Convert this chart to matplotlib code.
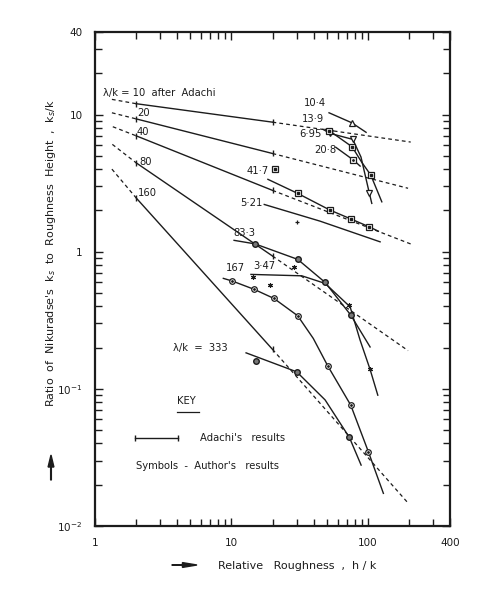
import numpy as np
import matplotlib
matplotlib.use("Agg")
import matplotlib.pyplot as plt
from matplotlib.ticker import FixedLocator, NullFormatter

# Adachi's lines (lambda/k), solid between h/k = 2 and 20
adachi_lam = [10, 20, 40, 80, 160]
adachi_x = [2, 20]
adachi_y = [[12.0, 8.8], [9.3, 5.2], [7.0, 2.8], [4.45, 0.93], [2.47, 0.194]]
# dashed extrapolations on both sides
ext_left_x = [1.33, 1.33, 1.35, 1.34, 1.33]
ext_left_y = [12.9, 10.3, 8.15, 6.06, 4.0]
ext_right_x = [206, 197, 210, 197, 197]
ext_right_y = [6.3, 2.9, 1.13, 0.19, 0.0147]

# Author's results : curves and symbols
c104_x = [51.9, 76.2, 97.0]
c104_y = [10.3, 8.71, 7.42]
c104_px = [76.2]
c104_py = [8.71]

c695_x = [46.9, 52.8, 77.5, 89.0, 102.6, 106.8]
c695_y = [7.8, 7.29, 6.59, 4.9, 2.66, 2.25]
c695_px = [52.8, 77.5, 102.6]
c695_py = [7.29, 6.59, 2.66]

c139_x = [48.6, 52.2, 76.6, 90.0, 105.0, 126.5]
c139_y = [7.8, 7.62, 5.82, 4.5, 3.62, 2.31]
c139_px = [52.2, 76.6, 105.0]
c139_py = [7.62, 5.82, 3.62]

c208_x = [58.2, 78.3, 87.7]
c208_y = [5.77, 4.66, 4.21]
c208_px = [78.3]
c208_py = [4.66]

c417_x = [18.5, 30.6, 52.8, 75.3, 102.0, 119.4]
c417_y = [3.37, 2.66, 2.01, 1.73, 1.52, 1.41]
c417_px = [20.9, 30.6, 52.8, 75.3, 102.0]
c417_py = [4.0, 2.66, 2.01, 1.73, 1.52]

c521_x = [17.4, 44.6, 122.9]
c521_y = [2.21, 1.67, 1.18]
c521_px = [30.1]
c521_py = [1.64]

c833_x = [10.45, 14.9, 30.6, 48.6, 74.9, 103.8]
c833_y = [1.21, 1.14, 0.879, 0.597, 0.345, 0.202]
c833_px = [14.9, 30.6, 48.6, 74.9]
c833_py = [1.14, 0.879, 0.597, 0.345]

c347_x = [13.9, 32.8, 48.6, 74.1, 87.6, 103.8, 118.2]
c347_y = [0.683, 0.667, 0.587, 0.396, 0.227, 0.1385, 0.0899]
c347_px = [14.3, 19.2, 28.9, 73.2, 103.8]
c347_py = [0.656, 0.571, 0.768, 0.408, 0.1385]

c167_x = [8.72, 10.15, 14.7, 20.5, 30.6, 39.8, 50.8, 74.9, 100.9, 129.9]
c167_y = [0.639, 0.611, 0.531, 0.456, 0.341, 0.233, 0.147, 0.076, 0.0347, 0.0173]
c167_px = [10.15, 14.7, 20.5, 30.6, 50.8, 74.9, 100.9]
c167_py = [0.611, 0.531, 0.456, 0.341, 0.147, 0.076, 0.0347]

c333_x = [12.8, 30.1, 48.6, 73.2, 89.2]
c333_y = [0.183, 0.133, 0.083, 0.0442, 0.0278]
c333_px = [15.2, 30.1, 73.2]
c333_py = [0.160, 0.133, 0.0442]

# tick labels
xticks = [1, 10, 100, 400]
xtick_labels = ["1", "10", "100", "400"]
yticks = [0.01, 0.1, 1, 10, 40]
ytick_labels = ["$10^{-2}$", "$10^{-1}$", "1", "10", "40"]

ink = "#1c1c1c"
plt.rcParams["font.family"] = ["DejaVu Sans"]
plt.rcParams["mathtext.fontset"] = "dejavusans"

fig = plt.figure(figsize=(4.85, 6.01), dpi=100)
ax = fig.add_axes([0.1959, 0.1248, 0.7320, 0.8220])
ax.set_xscale("log")
ax.set_yscale("log")
ax.set_xlim(1, 400)
ax.set_ylim(0.01, 40)

# Adachi
for i in range(len(adachi_lam)):
    ax.plot(adachi_x, adachi_y[i], color=ink, lw=1.0, marker="|", ms=5, mew=1.0)
    ax.plot([ext_left_x[i], adachi_x[0]], [ext_left_y[i], adachi_y[i][0]],
            color=ink, lw=0.9, ls=(0, (3, 2.5)))
    ax.plot([adachi_x[1], ext_right_x[i]], [adachi_y[i][1], ext_right_y[i]],
            color=ink, lw=0.9, ls=(0, (3, 2.5)))

# author's curves
curves = [(c104_x, c104_y), (c695_x, c695_y), (c139_x, c139_y), (c208_x, c208_y),
          (c417_x, c417_y), (c521_x, c521_y), (c833_x, c833_y), (c347_x, c347_y),
          (c167_x, c167_y), (c333_x, c333_y)]
for cx, cy in curves:
    ax.plot(cx, cy, color=ink, lw=1.0)

ms = 4
ax.plot(c104_px, c104_py, ls="none", marker="^", ms=ms, mfc="white", mec=ink, mew=0.9)
ax.plot(c695_px, c695_py, ls="none", marker="v", ms=ms, mfc="white", mec=ink, mew=0.9)
ax.plot(c139_px, c139_py, ls="none", marker="s", ms=ms, mfc="white", mec=ink, mew=0.9)
ax.plot(c139_px, c139_py, ls="none", marker="s", ms=1.6, mfc=ink, mec=ink)
ax.plot(c208_px, c208_py, ls="none", marker="s", ms=ms, mfc="white", mec=ink, mew=0.9)
ax.plot(c208_px, c208_py, ls="none", marker=".", ms=2, color=ink)
ax.plot(c417_px, c417_py, ls="none", marker="s", ms=ms, mfc="white", mec=ink, mew=0.9)
ax.plot(c417_px, c417_py, ls="none", marker="s", ms=1.8, mfc=ink, mec=ink)
ax.plot(c521_px, c521_py, ls="none", marker="+", ms=3.5, color=ink, mew=0.9)
ax.plot(c347_px, c347_py, ls="none", marker=(6, 2, 0), ms=3.5, color=ink, mew=0.8)
ax.plot(c833_px, c833_py, ls="none", marker="o", ms=ms, mfc="#777777", mec=ink, mew=1.0)
ax.plot(c167_px, c167_py, ls="none", marker="o", ms=ms, mfc="white", mec=ink, mew=0.9)
ax.plot(c167_px, c167_py, ls="none", marker=".", ms=2, color=ink)
ax.plot(c333_px, c333_py, ls="none", marker="o", ms=ms, mfc="#777777", mec=ink, mew=1.0)

# labels on the curves
fs = 7.2
ax.text(1.145, 14.3, "λ/k = 10  after  Adachi", fontsize=fs, color=ink, va="center")
ax.text(2.03, 10.2, "20", fontsize=fs, color=ink, va="center")
ax.text(2.03, 7.46, "40", fontsize=fs, color=ink, va="center")
ax.text(2.1, 4.5, "80", fontsize=fs, color=ink, va="center")
ax.text(2.07, 2.68, "160", fontsize=fs, color=ink, va="center")
ax.text(34.1, 12.2, "10·4", fontsize=fs, color=ink, va="center")
ax.text(32.8, 9.22, "13·9", fontsize=fs, color=ink, va="center")
ax.text(31.3, 7.17, "6·95", fontsize=fs, color=ink, va="center")
ax.text(40.3, 5.51, "20·8", fontsize=fs, color=ink, va="center")
ax.text(12.8, 3.87, "41·7", fontsize=fs, color=ink, va="center")
ax.text(11.56, 2.25, "5·21", fontsize=fs, color=ink, va="center")
ax.text(10.27, 1.36, "83·3", fontsize=fs, color=ink, va="center")
ax.text(14.4, 0.789, "3·47", fontsize=fs, color=ink, va="center")
ax.text(9.13, 0.756, "167", fontsize=fs, color=ink, va="center")
ax.text(3.73, 0.197, "λ/k  =  333", fontsize=fs, color=ink, va="center")

# key
ax.text(3.99, 0.0813, "KEY", fontsize=fs, color=ink, va="center")
ax.plot([3.99, 5.75], [0.068, 0.068], color=ink, lw=0.9)
ax.plot([1.966, 4.08], [0.0435, 0.0435], color=ink, lw=1.0, marker="|", ms=5, mew=1.0)
ax.text(5.89, 0.0435, "Adachi's   results", fontsize=fs, color=ink, va="center")
ax.text(2.0, 0.0273, "Symbols  -  Author's   results", fontsize=fs, color=ink, va="center")

# axes, ticks
ax.xaxis.set_major_locator(FixedLocator(xticks))
ax.set_xticklabels(xtick_labels)
ax.xaxis.set_minor_locator(FixedLocator([2, 3, 4, 5, 6, 7, 8, 9, 20, 30, 40, 50, 60, 70, 80, 90, 200, 300]))
ax.xaxis.set_minor_formatter(NullFormatter())
ax.yaxis.set_major_locator(FixedLocator(yticks))
ax.set_yticklabels(ytick_labels)
ymin = [m * d for d in [0.01, 0.1, 1] for m in range(2, 10)] + [20, 30]
ax.yaxis.set_minor_locator(FixedLocator(ymin))
ax.yaxis.set_minor_formatter(NullFormatter())
ax.tick_params(which="both", direction="in", top=True, right=True, color=ink,
               labelsize=7.5, labelcolor=ink)
ax.tick_params(which="major", length=6, width=1.0)
ax.tick_params(which="minor", length=5, width=1.0)
ax.tick_params(axis="x", which="major", pad=9)
ax.tick_params(axis="y", which="major", pad=9)
for sp in ax.spines.values():
    sp.set_linewidth(1.6)
    sp.set_color(ink)

# axis titles with arrows
fig.text(0.4495, 0.0582, "Relative   Roughness  ,  h / k", fontsize=8, color=ink,
         ha="left", va="center")
fig.text(0.105, 0.579, "Ratio  of  Nikuradse's  k$_s$  to  Roughness  Height  ,  k$_s$/k",
         fontsize=8, color=ink, rotation=90, ha="center", va="center")
fig.patches.append(matplotlib.patches.FancyArrow(
    172 / 485, 1 - 565 / 601, 25 / 485, 0, width=0.001, head_width=0.008,
    head_length=0.03, length_includes_head=True, color=ink, transform=fig.transFigure))
fig.patches.append(matplotlib.patches.FancyArrow(
    51 / 485, 1 - 480 / 601, 0, 25 / 601, width=0.0015, head_width=0.012,
    head_length=0.02, length_includes_head=True, color=ink, transform=fig.transFigure))

fig.savefig("out.png", dpi=100, facecolor="white")
